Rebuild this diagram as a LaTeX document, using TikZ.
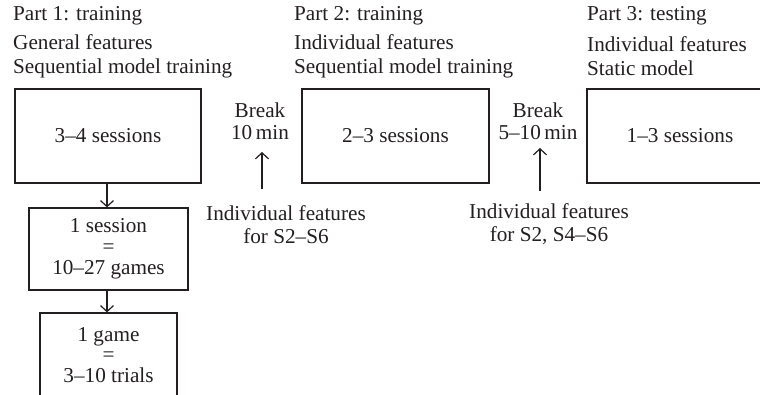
\documentclass[tikz,border=0pt]{standalone}
\usepackage{fontspec}
\setmainfont{Liberation Serif}
\usetikzlibrary{arrows.meta}
\definecolor{ink}{HTML}{231F20}
\begin{document}
\begin{tikzpicture}[x=1pt,y=-1pt,
  every node/.style={text=ink,inner sep=0pt,font=\fontsize{21.2}{24}\selectfont},
  bigbox/.style={draw=ink,line width=1.2pt,minimum width=186pt,minimum height=94pt},
  smallbox/.style={draw=ink,line width=1.2pt,align=center,font=\fontsize{21.2}{20.8}\selectfont},
  lbl/.style={align=center},
  title/.style={anchor=west,align=left},
  arr/.style={draw=ink,line width=1.2pt,-{Straight Barb[length=6pt,width=13pt,line width=1.2pt]}}
]
\clip (0,0) rectangle (760,395);
% titles
\node[title] (t1a) at (13,16) {Part 1: training};
\node[title] (t1b) at (13,56) {General features\\Sequential model training};
\node[title] (t2a) at (294,16) {Part 2: training};
\node[title] (t2b) at (294,56) {Individual features\\Sequential model training};
\node[title] (t3a) at (587,16) {Part 3: testing};
\node[title] (t3b) at (587,56) {Individual features\\Static model};
% main boxes
\node[bigbox] (b1) at (108,136) {3–4 sessions};
\node[bigbox,minimum width=187pt] (b2) at (395.5,136) {2–3 sessions};
\node[bigbox] (b3) at (680,136) {1–3 sessions};
% breaks
\node[lbl,font=\fontsize{21.2}{22}\selectfont] (k1) at (260,121) {Break\\10\hspace{0.17em}min};
\node[lbl,font=\fontsize{21.2}{22}\selectfont] (k2) at (538,121) {Break\\5–10\hspace{0.17em}min};
% individual features
\node[lbl,font=\fontsize{21.2}{23}\selectfont] (f1) at (286,225) {Individual features\\for S2–S6};
\node[lbl,font=\fontsize{21.2}{23}\selectfont] (f2) at (549,224) {Individual features\\for S2, S4–S6};
\coordinate (u1b) at (262,189);
\coordinate (u1t) at (262,152);
\coordinate (u2b) at (540,191);
\coordinate (u2t) at (540,148);
\draw[arr] (u1b) -- (u1t);
\draw[arr] (u2b) -- (u2t);
% hierarchy boxes
\node[smallbox,minimum width=159pt,minimum height=82pt] (s1) at (108.5,249) {1 session\\=\\10–27 games};
\node[smallbox,minimum width=137pt,minimum height=84pt] (s2) at (108.5,355) {1 game\\=\\3–10 trials};
\draw[arr] ([xshift=-1pt]b1.south) -- ([xshift=-1pt]b1.south |- s1.north);
\draw[arr] ([xshift=-1.5pt]s1.south) -- ([xshift=-1.5pt]s1.south |- s2.north);
\end{tikzpicture}
\end{document}
